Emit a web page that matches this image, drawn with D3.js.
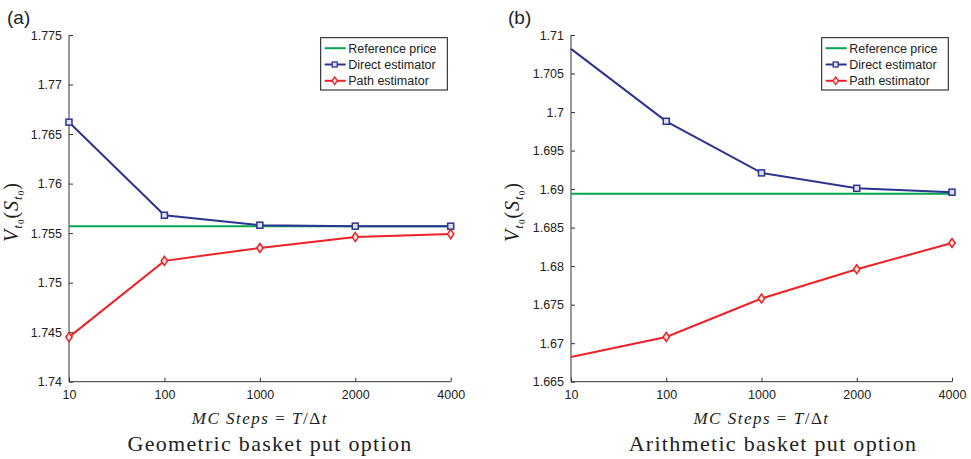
<!DOCTYPE html>
<html>
<head>
<meta charset="utf-8">
<script src="https://cdn.jsdelivr.net/npm/d3@7"></script>
<style>
  body { margin: 0; background: #fff; }
  svg text { fill: #222; }
</style>
</head>
<body>
<div id="chart"></div>
<script>
// categories (MC steps)
const steps = ["10", "100", "1000", "2000", "4000"];

// (a) geometric basket put
const geoReference = 1.7557;
const geoDirect = [1.7662, 1.7568, 1.7558, 1.7557, 1.7557];
const geoPath = [1.7445, 1.7522, 1.7535, 1.7546, 1.7549];
const geoTicks = [1.74, 1.745, 1.75, 1.755, 1.76, 1.765, 1.77, 1.775];

// (b) arithmetic basket put
const ariReference = 1.6894;
const ariDirect = [1.7082, 1.6988, 1.6921, 1.6901, 1.6896];
const ariPath = [1.6682, 1.6708, 1.6758, 1.6796, 1.6830];
const ariTicks = [1.665, 1.67, 1.675, 1.68, 1.685, 1.69, 1.695, 1.7, 1.705, 1.71];

const green = "#00a550", blue = "#2b3590", red = "#ec2227";

const svg = d3.select("#chart").append("svg")
    .attr("width", 971)
    .attr("height", 459);

function drawPanel(opt) {
    const x = d3.scalePoint()
        .domain(steps)
        .range([opt.left, opt.right]);
    const y = d3.scaleLinear()
        .domain(opt.domain)
        .range([381.7, 35]);

    const g = svg.append("g");

    // axes (ticks pointing inward)
    const yAxis = g.append("g")
        .attr("transform", `translate(${opt.left},0)`)
        .call(d3.axisLeft(y).tickValues(opt.ticks).tickSize(-4).tickPadding(7)
            .tickFormat(d => d3.format("")(+d.toFixed(3))));
    const xAxis = g.append("g")
        .attr("transform", `translate(0,381.7)`)
        .call(d3.axisBottom(x).tickSize(-4).tickPadding(8));
    [xAxis, yAxis].forEach(a => {
        a.select(".domain").attr("stroke", "#333").attr("stroke-width", 1);
        a.selectAll(".tick line").attr("stroke", "#333");
        a.selectAll(".tick text")
            .style("font-family", "Liberation Sans, Arial, sans-serif")
            .style("font-size", "12.5px")
            .style("fill", "#222");
    });
    xAxis.select(".domain").attr("d", `M${opt.left},0H${opt.right}`);
    yAxis.select(".domain").attr("d", `M0,${y(opt.domain[0])}V${y(opt.domain[1])}`);

    // reference line
    g.append("line")
        .attr("x1", x(steps[0])).attr("x2", x(steps[steps.length - 1]))
        .attr("y1", y(opt.reference)).attr("y2", y(opt.reference))
        .attr("stroke", green).attr("stroke-width", 2);

    const line = d3.line()
        .x((d, i) => x(steps[i]))
        .y(d => y(d));

    g.append("path").datum(opt.direct)
        .attr("d", line).attr("fill", "none")
        .attr("stroke", blue).attr("stroke-width", 2);
    g.append("path").datum(opt.path)
        .attr("d", line).attr("fill", "none")
        .attr("stroke", red).attr("stroke-width", 2);

    const startIdx = opt.firstMarker ? 0 : 1;
    g.selectAll(".sq").data(opt.direct.slice(startIdx)).enter()
        .append("rect")
        .attr("x", (d, i) => x(steps[i + startIdx]) - 3)
        .attr("y", d => y(d) - 3)
        .attr("width", 6).attr("height", 6)
        .attr("fill", "#dfe0f0").attr("stroke", blue).attr("stroke-width", 1.5);
    g.selectAll(".dm").data(opt.path.slice(startIdx)).enter()
        .append("path")
        .attr("transform", (d, i) => `translate(${x(steps[i + startIdx])},${y(d)})`)
        .attr("d", "M0,-4.5L3.2,0L0,4.5L-3.2,0Z")
        .attr("fill", "#fbe0e0").attr("stroke", red).attr("stroke-width", 1.5);

    // legend
    const lg = g.append("g").attr("transform", `translate(${opt.legendX},37.7)`);
    lg.append("rect").attr("width", 126.6).attr("height", 52.3)
        .attr("fill", "#fff").attr("stroke", "#111").attr("stroke-width", 1);
    const items = [
        {label: "Reference price", color: green, marker: null},
        {label: "Direct estimator", color: blue, marker: "sq"},
        {label: "Path estimator", color: red, marker: "dm"}
    ];
    items.forEach((it, i) => {
        const cy = 10.5 + i * 16.3;
        lg.append("line").attr("x1", 4).attr("x2", 25).attr("y1", cy).attr("y2", cy)
            .attr("stroke", it.color).attr("stroke-width", 2);
        if (it.marker === "sq") {
            lg.append("rect").attr("x", 11.5).attr("y", cy - 2.5).attr("width", 5).attr("height", 5)
                .attr("fill", "#dfe0f0").attr("stroke", it.color).attr("stroke-width", 1.3);
        } else if (it.marker === "dm") {
            lg.append("path").attr("transform", `translate(14,${cy})`)
                .attr("d", "M0,-3.8L2.7,0L0,3.8L-2.7,0Z")
                .attr("fill", "#fbe0e0").attr("stroke", it.color).attr("stroke-width", 1.3);
        }
        lg.append("text").attr("x", 27.5).attr("y", cy + 4.5)
            .style("font-family", "Liberation Sans, Arial, sans-serif")
            .style("font-size", "12.5px")
            .text(it.label);
    });

    // y label V_{t0}(S_{t0})
    const yl = g.append("text")
        .attr("transform", `translate(${opt.ylabelX},212) rotate(-90)`)
        .attr("text-anchor", "middle")
        .style("font-family", "Liberation Serif, Times New Roman, serif")
        .style("font-size", "20px")
        .style("letter-spacing", "1px");
    yl.append("tspan").style("font-style", "italic").text("V");
    yl.append("tspan").style("font-style", "italic").style("font-size", "13px").attr("dy", 4).text("t");
    yl.append("tspan").style("font-size", "9px").attr("dy", 2).text("0");
    yl.append("tspan").attr("dy", -6).text("(");
    yl.append("tspan").style("font-style", "italic").text("S");
    yl.append("tspan").style("font-style", "italic").style("font-size", "13px").attr("dy", 4).text("t");
    yl.append("tspan").style("font-size", "9px").attr("dy", 2).text("0");
    yl.append("tspan").attr("dy", -6).text(")");

    // x label
    const xl = g.append("text")
        .attr("x", (opt.left + opt.right) / 2).attr("y", 424)
        .attr("text-anchor", "middle")
        .style("font-family", "Liberation Serif, Times New Roman, serif")
        .style("font-size", "17px")
        .style("letter-spacing", "1.5px");
    xl.append("tspan").style("font-style", "italic").text("MC Steps");
    xl.append("tspan").text(" = ");
    xl.append("tspan").style("font-style", "italic").text("T");
    xl.append("tspan").text("/Δ");
    xl.append("tspan").style("font-style", "italic").text("t");

    // title
    g.append("text")
        .attr("x", opt.titleX).attr("y", 451)
        .attr("text-anchor", "middle")
        .style("font-family", "Liberation Serif, Times New Roman, serif")
        .style("font-size", "22px")
        .style("letter-spacing", "1.3px")
        .text(opt.title);

    // panel label
    g.append("text")
        .attr("x", opt.tagX).attr("y", 24)
        .style("font-family", "Liberation Sans, Arial, sans-serif")
        .style("font-size", "19px")
        .text(opt.tag);
}

drawPanel({
    left: 69, right: 450.7, domain: [1.74, 1.775], ticks: geoTicks,
    reference: geoReference, direct: geoDirect, path: geoPath,
    firstMarker: true, legendX: 320.7, ylabelX: 18, titleX: 270,
    title: "Geometric basket put option", tag: "(a)", tagX: 7
});
drawPanel({
    left: 571, right: 952, domain: [1.665, 1.71], ticks: ariTicks,
    reference: ariReference, direct: ariDirect, path: ariPath,
    firstMarker: false, legendX: 821.7, ylabelX: 519, titleX: 773,
    title: "Arithmetic basket put option", tag: "(b)", tagX: 508
});
</script>
</body>
</html>
